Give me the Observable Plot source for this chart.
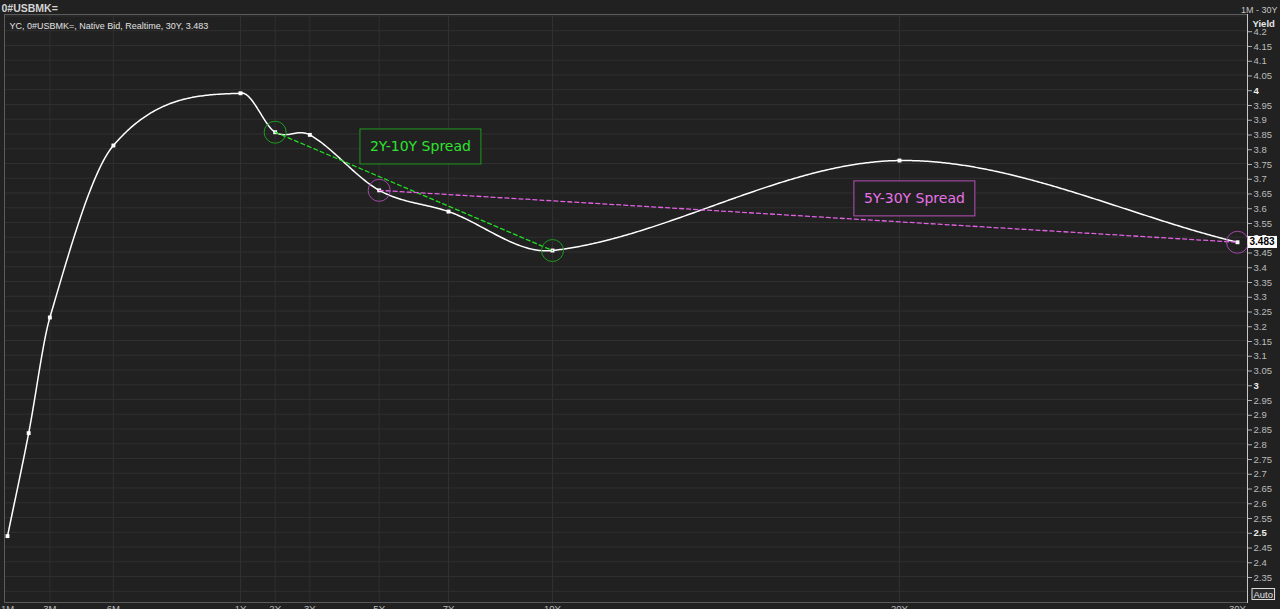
<!DOCTYPE html>
<html><head><meta charset="utf-8">
<script src="https://cdn.jsdelivr.net/npm/d3@7"></script>
<script src="https://cdn.jsdelivr.net/npm/@observablehq/plot@0.6"></script>
<style>
html,body{margin:0;padding:0;background:#212121;overflow:hidden;width:1280px;height:609px}
#chart{position:absolute;left:0;top:0}
</style></head><body><div id="chart"></div>
<script>
// ---- data ----
const ric = "0#USBMK=";
const tenorLabels = ["1M","2M","3M","6M","1Y","2Y","3Y","5Y","7Y","10Y","20Y","30Y"];
const tenorYears  = [1/12, 2/12, 3/12, 0.5, 1, 2, 3, 5, 7, 10, 20, 30];
const yields      = [2.487, 2.836, 3.228, 3.811, 3.988, 3.856, 3.847, 3.659, 3.587, 3.455, 3.760, 3.483];
const xTickYears  = [1/12, 0.25, 0.5, 1, 2, 3, 5, 7, 10, 20, 30];
const xTickLabels = ["1M","3M","6M","1Y","2Y","3Y","5Y","7Y","10Y","20Y","30Y"];
const yTickLabels = ["4.2","4.15","4.1","4.05","4","3.95","3.9","3.85","3.8","3.75","3.7","3.65","3.6","3.55","3.5","3.45","3.4","3.35","3.3","3.25","3.2","3.15","3.1","3.05","3","2.95","2.9","2.85","2.8","2.75","2.7","2.65","2.6","2.55","2.5","2.45","2.4","2.35"];
const yBoldLabels = ["4","3.5","3","2.5"];
const spreadNames = ["2Y-10Y Spread","5Y-30Y Spread"];
const spreadFrom  = ["2Y","5Y"];
const spreadTo    = ["10Y","30Y"];

// ---- derived ----
const pts = tenorLabels.map((t,i)=>({tenor:t, m:tenorYears[i], y:yields[i]}));
const get = t => pts.find(p=>p.tenor===t);
const yTicks = yTickLabels.map(Number);
const yBold = yBoldLabels.map(Number);
const yRegular = yTicks.filter(v=>!yBold.includes(v));
const gridY = [4.25, ...yTicks, 2.3];
const last = pts[pts.length-1];

const spreadStyle = [
  {line:"#22dd22", ring:"#1f9a1f", box:"#1f9a1f", text:"#2ee22e", lx:6.19, ly:3.806},
  {line:"#e062e0", ring:"#a048a8", box:"#b850b8", text:"#e872e8", lx:20.44, ly:3.630}
];
const spreads = spreadNames.map((n,i)=>({name:n, a:get(spreadFrom[i]), b:get(spreadTo[i]), ...spreadStyle[i]}));

// x scale (piecewise: months spaced wider than years)
const xOpts = {type:"linear", domain:[1/12,1,10,20,30], range:[7,240,552,899,1237], label:null};
const xScale = Plot.scale({x: xOpts});
const xFwd = v => xScale.apply(v);
const xInv = p => xScale.invert ? xScale.invert(p) : d3.scaleLinear().domain(xOpts.domain).range(xOpts.range).invert(p);

// Cubic Hermite (Catmull-Rom finite-difference slopes) evaluated in maturity space, drawn through the x scale
function curveMaturityHermite(context) {
  let px, py;
  return {
    areaStart(){}, areaEnd(){},
    lineStart(){ px = []; py = []; },
    point(x, y){ px.push(+x); py.push(+y); },
    lineEnd(){
      const n = px.length; if (!n) return;
      const X = px.map(xInv), Y = py;
      const m = X.map((_, i) => {
        const a = Math.max(0, i-1), b = Math.min(n-1, i+1);
        return (Y[b]-Y[a])/(X[b]-X[a]);
      });
      context.moveTo(px[0], py[0]);
      for (let i = 0; i < n-1; i++) {
        const h = X[i+1]-X[i];
        const steps = Math.max(4, Math.ceil(Math.abs(px[i+1]-px[i])/1.5));
        for (let k = 1; k <= steps; k++) {
          const t = k/steps, t2 = t*t, t3 = t2*t;
          const yv = (2*t3-3*t2+1)*Y[i] + (t3-2*t2+t)*h*m[i] + (-2*t3+3*t2)*Y[i+1] + (t3-t2)*h*m[i+1];
          context.lineTo(xFwd(X[i] + h*t), yv);
        }
      }
    }
  };
}

const ff = "'Liberation Sans', Arial, sans-serif";
const marks = [
  Plot.ruleY(gridY, {stroke:"#303030", strokeWidth:1}),
  Plot.ruleX(xTickYears.slice(1,-1), {stroke:"#303030", strokeWidth:1}),
  Plot.frame({stroke:"#5c5c5c"}),
  Plot.frame({anchor:"right", stroke:"#c8c8c8"}),
  Plot.axisY(yRegular, {anchor:"right", tickSize:4, tickPadding:2, dy:1, stroke:"#b0b0b0", fill:"#bcbcbc", fontSize:9.5, tickFormat:d=>String(d), label:null}),
  Plot.axisY(yBold, {anchor:"right", tickSize:4, tickPadding:2, dy:1, stroke:"#b0b0b0", fill:"#ececec", fontWeight:"bold", fontSize:9.5, tickFormat:d=>String(d), label:null}),
  Plot.axisX(xTickYears, {anchor:"bottom", tickSize:0, tickPadding:3, fill:"#bcbcbc", fontSize:9.5, tickFormat:d=>xTickLabels[xTickYears.indexOf(d)], label:null}),
  Plot.line(pts, {x:"m", y:"y", curve:curveMaturityHermite, stroke:"#ffffff", strokeWidth:1.5}),
  Plot.dot(pts, {x:"m", y:"y", symbol:"square", r:2.2, fill:"#ffffff", stroke:"none"}),
];
for (const s of spreads) {
  marks.push(Plot.line([s.a, s.b], {x:"m", y:"y", stroke:s.line, strokeWidth:1.3, strokeDasharray:"4,3"}));
  marks.push(Plot.dot([s.a, s.b], {x:"m", y:"y", r:11, stroke:s.ring, fill:"none", strokeWidth:1}));
  marks.push(Plot.text([s], {x:"lx", y:"ly", text:"name", fill:s.text, fontSize:14, fontFamily:"'DejaVu Sans', sans-serif"}));
}
marks.push(
  Plot.text([last], {x:"m", y:"y", text:d=>d.y.toFixed(3), dx:12, textAnchor:"start", fill:"#000", fontWeight:"bold", fontSize:10}),
  Plot.text([ric], {frameAnchor:"top-left", dx:-3, dy:-10, textAnchor:"start", fill:"#d4d4d4", fontWeight:"bold", fontSize:10.5}),
  Plot.text([`YC, ${ric}, Native Bid, Realtime, ${last.tenor}, ${last.y.toFixed(3)}`], {frameAnchor:"top-left", dx:5, dy:8, textAnchor:"start", fill:"#e2e2e2", fontSize:9}),
  Plot.text([`${tenorLabels[0]} - ${last.tenor}`], {frameAnchor:"top-right", dx:30, dy:-8, textAnchor:"end", fill:"#c4c4c4", fontSize:9}),
  Plot.text(["Yield"], {frameAnchor:"top-right", dx:5, dy:6, textAnchor:"start", fill:"#e6e6e6", fontWeight:"bold", fontSize:9.5}),
  Plot.text(["Auto"], {frameAnchor:"bottom-right", dx:6, dy:-5, textAnchor:"start", fill:"#e0e0e0", fontSize:9.5})
);

const plot = Plot.plot({
  width:1280, height:609,
  marginLeft:4, marginRight:33, marginTop:14, marginBottom:7,
  style:{background:"#212121", color:"#bcbcbc", fontFamily:ff, fontSize:"9.5px", overflow:"visible"},
  x:xOpts,
  y:{domain:[2.262,4.255], range:[602,14], label:null},
  marks
});
document.getElementById("chart").append(plot);

// boxes behind labels, sized from the rendered text
function boxFor(content, {padX, padY, fill, stroke, minH}) {
  d3.select(plot).selectAll("text").filter(function(){return this.textContent===content;}).each(function(){
    const b = this.getBBox();
    const h = Math.max(b.height + 2*padY, minH||0);
    const cy = b.y + b.height/2;
    const r = document.createElementNS("http://www.w3.org/2000/svg","rect");
    r.setAttribute("x", b.x - padX);
    r.setAttribute("y", cy - h/2);
    r.setAttribute("width", b.width + 2*padX);
    r.setAttribute("height", h);
    r.setAttribute("fill", fill);
    r.setAttribute("stroke", stroke);
    r.setAttribute("stroke-width", 1);
    const t = this.getAttribute("transform");
    if (t) r.setAttribute("transform", t);
    this.parentNode.insertBefore(r, this);
  });
}
for (const s of spreads) boxFor(s.name, {padX:10, padY:9, fill:"#212121", stroke:s.box, minH:35});
boxFor(last.y.toFixed(3), {padX:1.5, padY:0, fill:"#ffffff", stroke:"#ffffff"});
boxFor("Auto", {padX:1.5, padY:0, fill:"#2a2a2a", stroke:"#dcdcdc"});
</script></body></html>
